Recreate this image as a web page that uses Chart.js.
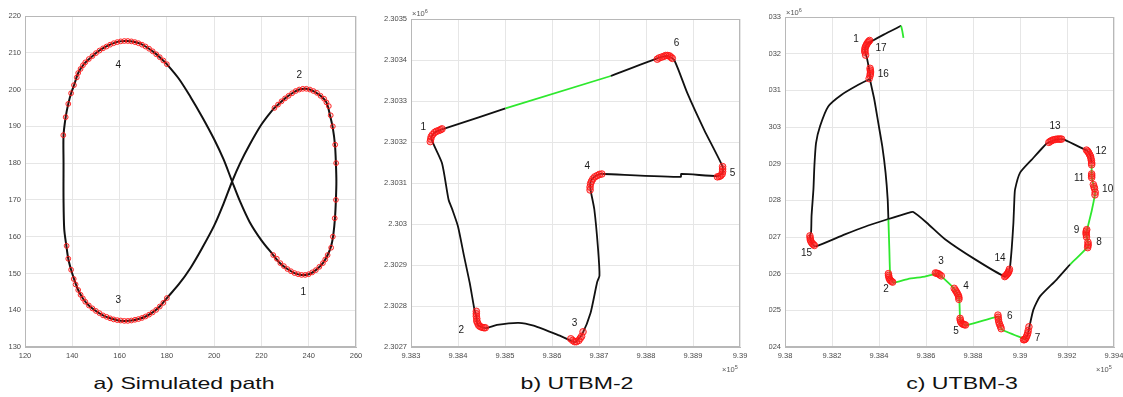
<!DOCTYPE html>
<html><head><meta charset="utf-8">
<script src="https://cdn.jsdelivr.net/npm/chart.js@4.4.0/dist/chart.umd.min.js"></script>
<style>
html,body{margin:0;padding:0;background:#fff;width:1123px;height:397px;overflow:hidden;font-family:"Liberation Sans",Arial,sans-serif;}
canvas{position:absolute;top:0;}
.title{position:absolute;top:375px;font-size:16.5px;line-height:16.5px;color:#111;white-space:nowrap;transform:translateX(-50%) scaleX(1.4);}
.exp{position:absolute;font-size:7.5px;color:#555;white-space:nowrap;line-height:8px;}
.exp sup{font-size:5.5px;vertical-align:3px;line-height:0;}
</style></head><body>
<canvas id="ca" width="372" height="366" style="left:0px"></canvas>
<canvas id="cb" width="378" height="366" style="left:378px"></canvas>
<canvas id="cc" width="354" height="366" style="left:769px"></canvas>
<div class="title" style="left:184px">a) Simulated path</div>
<div class="title" style="left:577px">b) UTBM-2</div>
<div class="title" style="left:962px">c) UTBM-3</div>
<div class="exp" style="left:412px;top:10px">×10<sup>6</sup></div>
<div class="exp" style="left:722px;top:366px">×10<sup>5</sup></div>
<div class="exp" style="left:786px;top:9px">×10<sup>6</sup></div>
<div class="exp" style="left:1096px;top:366px">×10<sup>5</sup></div>
<script>
// ---------------- Panel a: simulated path ----------------
const aXTicks = ['120','140','160','180','200','220','240','260'];
const aYTicks = ['130','140','150','160','170','180','190','200','210','220'];
const aPath = [
 [225,155],[228,152.7],[231,151.2],[234,150.1],[237,149.6],[240,149.8],[243,150.9],[246,152.8],[248,155],
 [249.5,157.5],[250.4,160.5],[251.1,165],[251.5,170],[251.7,175],[251.5,180],[251.1,185],[250.2,189.5],
 [249,193],[247.5,196.5],[245,198.3],[242,199.6],[239,200.2],[236,200],[233,199],[230,197.6],[227,195.9],[225,194.7],
 [220,190.5],[215,185],[211,180],[207.6,175],[204,169],[200,163],[195,157],[190,151.5],[185,147],[180,143.3],
 [177,141],[174,139.4],[171,138.3],[168,137.6],[165,137.2],[162,137.1],[159,137.3],[156,137.8],[153,138.6],
 [150,139.8],[147,141.3],[144.5,143.2],[142.5,145.5],[141,148],[139.5,151],[138.3,154],[137.5,157.5],
 [136.6,162],[136.3,170],[136.3,180],[136.3,187.5],[137.2,192.5],[138.3,196.1],[139.5,199],[140.8,201.3],
 [142.5,204.5],[145,207],[148,208.8],[151,210.4],[154,211.6],[157,212.5],[160,213.1],[163,213.2],[166,213],
 [169,212.4],[172,211.3],[175,209.9],[178,208.2],[180,206.9],
 [185,203],[190,198],[195,192.5],[200,186.5],[204,181],[207.6,175],[211,169.5],[215,164],[220,159],[225,155]
];
const aMarks = [
 [225,155],[226.5,154],[228,152.8],[229.5,152],[231,151.2],[232.5,150.6],[234,150.1],[235.5,149.8],[237,149.6],
 [238.5,149.6],[240,149.8],[241.5,150.3],[243,150.9],[244.5,151.8],[246,152.8],[247,153.8],[248,155],
 [249.5,157],[250.2,160],[251,165],[251.5,170],[251.6,180],[251.2,185],[250.2,190],[249.3,193],
 [248.5,195.5],[247.5,196.5],[246.5,197.5],[245,198.3],[243.5,199.1],[242,199.6],[240.5,200],[239,200.2],
 [237.5,200.2],[236,200],[234.5,199.6],[233,199],[231.5,198.3],[230,197.6],[228.5,196.8],[227,195.9],[225.5,195],
 [142.5,145.5],[143.5,144.2],[144.5,143.2],[145.5,142.3],[147,141.3],[148.5,140.5],[150,139.8],[151.5,139.2],
 [153,138.6],[154.5,138.2],[156,137.8],[157.5,137.5],[159,137.3],[160.5,137.2],[162,137.1],[163.5,137.1],
 [165,137.2],[166.5,137.4],[168,137.6],[169.5,137.9],[171,138.3],[172.5,138.8],[174,139.4],[175.5,140.1],
 [177,141],[178.5,142],[180,143.3],
 [141.4,147],[140.6,148.5],[139.5,151],[138.3,154],[137.6,157.5],
 [136.2,187.6],[137.2,192.5],[138.3,196.1],[139.5,199],[140.7,201.2],[141.9,203.3],
 [142.5,204.5],[143.5,205.6],[144.5,206.6],[145.5,207.4],[147,208.3],[148.5,209.1],[150,209.9],[151.5,210.6],
 [153,211.2],[154.5,211.7],[156,212.2],[157.5,212.6],[159,212.9],[160.5,213.1],[162,213.2],[163.5,213.2],
 [165,213.1],[166.5,212.9],[168,212.6],[169.5,212.2],[171,211.7],[172.5,211.1],[174,210.4],[175.5,209.6],
 [177,208.8],[178.5,207.9],[180,206.9]
];
const aLabels = [['1',237.7,145],['2',236,203.8],['3',159.5,142.8],['4',159.5,206.7]];

// ---------------- Panel b: UTBM-2 ----------------
const bXTicks = ['9.383','9.384','9.385','9.386','9.387','9.388','9.389','9.39'];
const bYTicks = ['2.3027','2.3028','2.3029','2.303','2.3031','2.3032','2.3033','2.3034','2.3035'];
const bBlack1 = [
 [938366,2303231],[938350,2303223],[938343,2303209],[938366,2303148],[938380,2303059],[938388,2303035],
 [938400,2302994],[938413,2302921],[938425,2302856],[938435,2302791],[938439,2302775],[938442,2302754],
 [938458,2302746],[938483,2302754],[938529,2302759],[938561,2302752],[938611,2302730],[938643,2302714],
 [938650,2302712],[938664,2302731],[938682,2302783],[938696,2302858],[938701,2302874],[938698,2302939],
 [938690,2303036],[938682,2303084],[938682,2303103],[938690,2303115],[938703,2303122],[938710,2303122],
 [938874,2303115],[938875,2303122],[938952,2303117],[938963,2303124],[938963,2303140],[938924,2303229],
 [938888,2303319],[938860,2303400],[938845,2303410],[938824,2303404],[938725,2303361]
];
const bGreen = [[938725,2303361],[938501,2303282]];
const bBlack2 = [[938501,2303282],[938444,2303260],[938366,2303231]];
const bMarks = [
 [938341,2303201],[938342,2303207],[938343,2303213],[938346,2303218],[938350,2303223],[938354,2303226],[938359,2303228],[938363,2303230],[938366,2303232],
 [938439,2302787],[938439,2302781],[938439,2302775],[938440,2302769],[938440,2302763],[938442,2302758],[938444,2302753],[938447,2302750],[938451,2302748],[938455,2302747],[938458,2302747],
 [938640,2302720],[938644,2302716],[938648,2302713],[938652,2302713],[938657,2302716],[938660,2302721],[938663,2302726],[938666,2302737],
 [938681,2303083],[938681,2303090],[938682,2303098],[938684,2303104],[938687,2303110],[938691,2303115],[938696,2303118],[938701,2303121],[938706,2303122],
 [938952,2303115],[938956,2303116],[938959,2303118],[938962,2303122],[938963,2303128],[938963,2303134],[938963,2303140],
 [938824,2303402],[938828,2303405],[938833,2303407],[938838,2303409],[938842,2303411],[938846,2303411],[938850,2303410],[938853,2303407],[938856,2303404]
];
const bLabels = [['1',938326,2303237],['2',938407,2302742],['3',938648,2302757],['4',938675,2303140],['5',938984,2303124],['6',938865,2303441]];

// ---------------- Panel c: UTBM-3 ----------------
const cXTicks = ['9.38','9.382','9.384','9.386','9.388','9.39','9.392','9.394'];
const cYTicks = ['2.3024','2.3025','2.3026','2.3027','2.3028','2.3029','2.303','2.3031','2.3032','2.3033'];
const cGreen1 = [[938504,2303243],[938499,2303262],[938494,2303276]];
const cBlack1 = [
 [938494,2303276],[938420,2303252],[938369,2303234],[938348,2303225],[938340,2303211],[938343,2303200],
 [938348,2303190],[938357,2303161],[938362,2303143],[938362,2303129],[938380,2303075],[938397,2303011],
 [938414,2302947],[938428,2302875],[938437,2302802],[938440,2302748]
];
const cGreen2 = [
 [938440,2302748],[938444,2302666],[938447,2302598],[938451,2302589],[938461,2302575],[938525,2302586],
 [938596,2302592],[938650,2302601],[938667,2302592],[938716,2302562],[938738,2302539],[938742,2302530],
 [938745,2302475],[938752,2302466],[938769,2302459],[938908,2302483],[938915,2302462],[938922,2302448],
 [939018,2302422],[939021,2302420]
];
const cBlack2 = [
 [939021,2302420],[939033,2302434],[939038,2302449],[939057,2302502],[939085,2302538],[939156,2302584],[939213,2302625]
];
const cGreen3 = [
 [939213,2302625],[939291,2302675],[939287,2302693],[939281,2302711],[939284,2302716],[939305,2302771],
 [939319,2302816],[939319,2302825],[939312,2302843],[939305,2302865],[939305,2302897]
];
const cBlack3 = [
 [939305,2302902],[939298,2302925],[939284,2302936],[939277,2302938],[939191,2302965],[939177,2302967],
 [939149,2302965],[939123,2302958],[939113,2302955],[939050,2302911],[939000,2302875],[938979,2302830],
 [938976,2302803],[938972,2302739],[938965,2302671],[938957,2302616],[938950,2302603],[938936,2302592],
 [938809,2302639],[938681,2302694],[938603,2302739],[938546,2302768],[938525,2302766],[938430,2302747],
 [938340,2302728],[938255,2302707],[938135,2302675],[938121,2302677],[938111,2302689],[938106,2302703],
 [938111,2302713],[938113,2302758],[938121,2302830],[938125,2302893],[938132,2302956],[938149,2303002],
 [938184,2303056],[938241,2303088],[938312,2303115],[938355,2303129],[938362,2303129]
];
const cMarks = [
 [938360,2303236],[938356,2303233],[938352,2303230],[938348,2303226],[938345,2303222],[938342,2303218],[938340,2303213],[938340,2303208],[938340,2303204],[938343,2303196],
 [938362,2303160],[938363,2303155],[938364,2303150],[938363,2303145],[938362,2303140],[938358,2303132],
 [938440,2302600],[938441,2302595],[938442,2302590],[938445,2302585],[938448,2302582],[938453,2302579],[938458,2302577],
 [938640,2302602],[938646,2302601],[938652,2302600],[938658,2302597],[938665,2302594],
 [938720,2302560],[938725,2302555],[938730,2302550],[938734,2302545],[938738,2302540],[938740,2302535],[938740,2302530],
 [938745,2302478],[938746,2302473],[938748,2302468],[938753,2302464],[938758,2302462],[938763,2302461],[938768,2302460],
 [938906,2302487],[938907,2302481],[938908,2302475],[938910,2302468],[938913,2302462],[938917,2302456],[938920,2302450],
 [939015,2302420],[939019,2302420],[939023,2302422],[939027,2302427],[939030,2302432],[939033,2302438],[939035,2302445],[939038,2302455],
 [939288,2302671],[939289,2302676],[939290,2302680],[939289,2302686],
 [939283,2302700],[939282,2302706],[939281,2302711],[939282,2302716],[939284,2302720],
 [939312,2302843],[939315,2302837],[939317,2302832],[939320,2302822],[939319,2302815],
 [939305,2302872],[939305,2302867],[939305,2302862],
 [939283,2302937],[939288,2302934],[939292,2302930],[939296,2302925],[939300,2302920],[939302,2302914],[939304,2302908],[939305,2302902],[939305,2302897],
 [939123,2302958],[939129,2302961],[939135,2302963],[939142,2302965],[939150,2302966],[939158,2302967],[939165,2302967],[939171,2302967],[939177,2302967],
 [938935,2302592],[938939,2302594],[938943,2302597],[938947,2302600],[938950,2302603],[938953,2302607],[938955,2302612],
 [938106,2302703],[938107,2302697],[938108,2302692],[938111,2302687],[938115,2302683],[938120,2302680],[938125,2302677]
];
const cLabels = [
 ['1',938302,2303238],['17',938409,2303214],['16',938418,2303143],['13',939149,2303002],['12',939345,2302935],
 ['11',939252,2302859],['10',939373,2302829],['9',939241,2302719],['8',939336,2302685],['15',938092,2302657],
 ['14',938915,2302642],['3',938664,2302635],['4',938770,2302566],['2',938430,2302557],['5',938728,2302444],
 ['6',938956,2302483],['7',939075,2302425]
];

// ---------------- helpers ----------------
const BLACK = '#111111', GREEN = '#2ee82e', RED = 'rgba(255,20,20,0.9)';
const pts = a => a.map(p => ({x:p[0], y:p[1]}));
function lineDs(arr, color, w, tension){
  return {data: pts(arr), showLine:true, borderColor:color, borderWidth:w, pointRadius:0, tension:tension, order:2, fill:false};
}
function markDs(arr, r, fillA){
  return {data: pts(arr), showLine:false, pointRadius:r, pointStyle:'circle', borderColor:RED, borderWidth:1,
          backgroundColor:'rgba(255,40,40,' + fillA + ')', order:1};
}
const overlay = {
  id:'overlay',
  afterDatasetsDraw(chart, args, opts){
    const ctx = chart.ctx, xs = chart.scales.x, ys = chart.scales.y;
    ctx.save();
    ctx.fillStyle = '#1a1a1a';
    ctx.font = '10px "Liberation Sans", Arial, sans-serif';
    ctx.textAlign = 'center'; ctx.textBaseline = 'middle';
    (opts.items || []).forEach(l => ctx.fillText(l[0], xs.getPixelForValue(l[1]), ys.getPixelForValue(l[2])));
    ctx.restore();
  },
  afterDraw(chart){
    const a = chart.chartArea, ctx = chart.ctx;
    ctx.save(); ctx.strokeStyle = '#b8b8b8'; ctx.lineWidth = 1;
    ctx.strokeRect(Math.round(a.left)+0.5, Math.round(a.top)+0.5, Math.round(a.right-a.left)-1, Math.round(a.bottom-a.top)-1);
    ctx.restore();
  }
};
function makeChart(id, o){
  const tickFont = {size:7.5, family:'"Liberation Sans", Arial, sans-serif'};
  return new Chart(document.getElementById(id), {
    type:'scatter',
    data:{datasets:o.datasets},
    plugins:[overlay],
    options:{
      responsive:false, animation:false, devicePixelRatio:1,
      layout:{padding:{left:0, right:o.padRight, top:o.padTop, bottom:0}},
      plugins:{legend:{display:false}, tooltip:{enabled:false}, overlay:{items:o.labels}},
      scales:{
        x:{type:'linear', min:o.xMin, max:o.xMax,
           ticks:{stepSize:o.xStep, autoSkip:false, maxRotation:0, padding:4, color:'#4a4a4a', font:tickFont,
                  callback:(v,i)=>o.xTicks[i]},
           grid:{color:'#e6e6e6', drawTicks:false}, border:{color:'#b8b8b8'},
           afterFit:s=>{s.height=19; s.paddingLeft=0; s.paddingRight=0;}},
        y:{type:'linear', min:o.yMin, max:o.yMax,
           ticks:{stepSize:o.yStep, autoSkip:false, padding:4, color:'#4a4a4a', font:tickFont,
                  callback:(v,i)=>o.yTicks[i]},
           grid:{color:'#e6e6e6', drawTicks:false}, border:{color:'#b8b8b8'},
           afterFit:s=>{s.width=o.yWidth; s.paddingTop=0; s.paddingBottom=0;}}
      }
    }
  });
}

makeChart('ca', {xMin:120, xMax:260, xStep:20, yMin:130, yMax:220, yStep:10, xTicks:aXTicks, yTicks:aYTicks,
  yWidth:25, padTop:16, padRight:16, labels:aLabels,
  datasets:[markDs(aMarks,2.4,0.12), lineDs(aPath, BLACK, 2, 0.3)]});
makeChart('cb', {xMin:938300, xMax:939000, xStep:100, yMin:2302700, yMax:2303500, yStep:100, xTicks:bXTicks, yTicks:bYTicks,
  yWidth:33, padTop:19, padRight:16, labels:bLabels,
  datasets:[markDs(bMarks,3.3,0.35), lineDs(bBlack1, BLACK, 1.8, 0.2), lineDs(bGreen, GREEN, 1.8, 0), lineDs(bBlack2, BLACK, 1.8, 0)]});
makeChart('cc', {xMin:938000, xMax:939400, xStep:200, yMin:2302400, yMax:2303300, yStep:100, xTicks:cXTicks, yTicks:cYTicks,
  yWidth:16, padTop:17, padRight:9, labels:cLabels,
  datasets:[markDs(cMarks,3.3,0.35), lineDs(cGreen1, GREEN, 1.8, 0.2), lineDs(cBlack1, BLACK, 1.8, 0.2), lineDs(cGreen2, GREEN, 1.8, 0.1),
            lineDs(cBlack2, BLACK, 1.8, 0.2), lineDs(cGreen3, GREEN, 1.8, 0.1), lineDs(cBlack3, BLACK, 1.8, 0.2)]});
</script>
</body></html>
